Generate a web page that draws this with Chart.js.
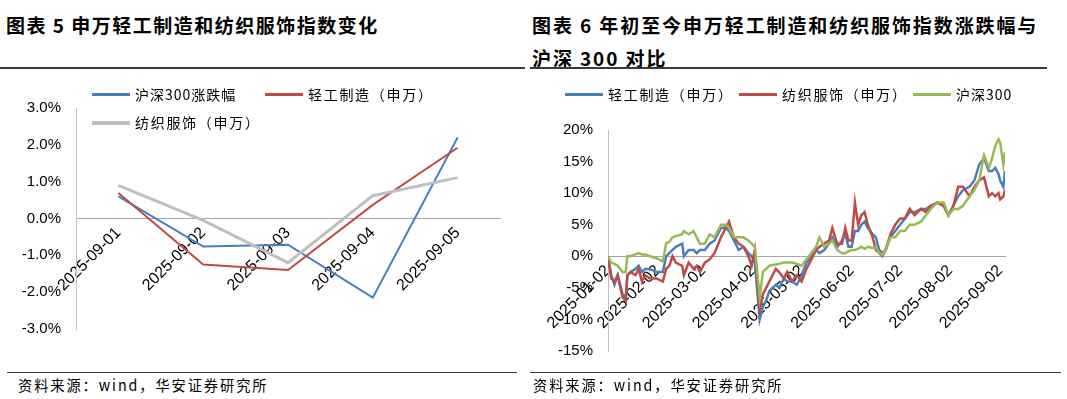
<!DOCTYPE html>
<html lang="zh">
<head>
<meta charset="UTF-8">
<title>申万轻工制造和纺织服饰指数</title>
<script src="https://cdn.jsdelivr.net/npm/chart.js@4"></script>
<style>
    body {
        margin: 0;
        width: 1067px;
        height: 399px;
        background: #fff;
        position: relative;
        overflow: hidden;
        font-family: "Noto Sans CJK SC", sans-serif;
        color: #000;
    }
    .title {
        position: absolute;
        top: 8px;
        font-size: 19px;
        font-weight: bold;
        line-height: 33px;
        letter-spacing: 1.5px;
        white-space: nowrap;
    }
    .rule {
        position: absolute;
        height: 2px;
        background: #3a3a3a;
    }
    .foot {
        position: absolute;
        top: 375px;
        font-size: 15px;
        line-height: 20px;
        letter-spacing: 2px;
        transform: scaleX(0.95);
        transform-origin: left;
    }
    canvas {
        position: absolute;
    }
    .lg {
        position: absolute;
        font-size: 14px;
        line-height: 20px;
        letter-spacing: 1.7px;
        white-space: nowrap;
    }
    .lg i {
        position: absolute;
        top: 9px;
        width: 38px;
        height: 3px;
    }
    .lg span {
        position: absolute;
        left: 43px;
        top: 0;
    }
</style>
</head>
<body>
<div class="title" style="left:6px">图表 5 申万轻工制造和纺织服饰指数变化</div>
<div class="title" style="left:532px;letter-spacing:1.9px">图表 6 年初至今申万轻工制造和纺织服饰指数涨跌幅与<br>沪深 300 对比</div>
<div class="rule" style="left:0;top:67px;width:525px"></div>
<div class="rule" style="left:530px;top:67px;width:517px"></div>

<canvas id="dayChart" width="525" height="290" style="left:0;top:70px"></canvas>
<canvas id="ytdChart" width="537" height="310" style="left:530px;top:70px"></canvas>

<div class="lg" style="left:92px;top:84px;letter-spacing:1px"><i style="background:#4a7ebb"></i><span>沪深300涨跌幅</span></div>
<div class="lg" style="left:265px;top:84px"><i style="background:#be4b48"></i><span>轻工制造（申万）</span></div>
<div class="lg" style="left:92px;top:112px"><i style="background:#bfbfbf;height:4px"></i><span>纺织服饰（申万）</span></div>

<div class="lg" style="left:565px;top:84px"><i style="background:#4a7ebb"></i><span>轻工制造（申万）</span></div>
<div class="lg" style="left:739px;top:84px"><i style="background:#be4b48"></i><span>纺织服饰（申万）</span></div>
<div class="lg" style="left:913px;top:84px;letter-spacing:1px"><i style="background:#98b954"></i><span>沪深300</span></div>

<div class="rule" style="left:7px;top:372px;width:510px;height:1px"></div>
<div class="rule" style="left:530px;top:372px;width:531px;height:1px"></div>
<div class="foot" style="left:18px">资料来源：wind，华安证券研究所</div>
<div class="foot" style="left:533px">资料来源：wind，华安证券研究所</div>

<script>
// 图表5：9月第一周日涨跌幅 (%)
const dayLabels = ['2025-09-01', '2025-09-02', '2025-09-03', '2025-09-04', '2025-09-05'];
const hs300Day = [0.6, -0.76, -0.71, -2.15, 2.2];
const qinggongDay = [0.69, -1.25, -1.4, 0.37, 1.92];
const fangzhiDay = [0.9, -0.05, -1.2, 0.62, 1.11];

// 图表6：年初至今累计涨跌幅 (%)，横轴为距 2025-01-02 的自然日
const ytdDays = [0, 2, 4, 6, 9, 11, 12, 14, 17, 19,
    21, 23, 26, 30, 34, 36, 38, 40, 42, 46,
    47, 50, 53, 55, 57, 60, 63, 66, 70, 73,
    75, 78, 81, 84, 87, 89, 91, 94, 96, 98,
    100, 104, 106, 109, 111, 114, 117, 120, 123, 126,
    129, 131, 134, 137, 139, 142, 145, 147, 149, 151,
    153, 155, 157, 159, 161, 164, 166, 168, 170, 172,
    175, 178, 181, 184, 187, 190, 194, 197, 200, 204,
    208, 211, 214, 217, 220, 224, 227, 230, 233, 236,
    238, 240, 242, 243, 245, 246];
const qinggongYtd = [0, -3, -4.5, -3, -6, -6.5, -3, -2.5, -2, -1.5,
    -2.5, -2, -2, -2.5, -2.5, 0, 0.5, 1, 1.5, 2,
    0, 1, 1, 0.5, 1, 1, 2, 2.5, 4.5, 4.5,
    4, 2.5, 1, 1.5, 0.5, 0, -1, -10, -8, -7,
    -5.5, -4.5, -5, -3.5, -4, -4, -4.5, -3, -1, 0,
    1, 0.5, 1, 2, 3, 1.5, 2.5, 3.5, 1.5, 1.5,
    4, 4, 5, 5.5, 4.5, 3.5, 3, 1, 0.5, 1,
    3, 4, 5, 6, 7, 7, 7.5, 7.5, 8, 8.5,
    8, 6.5, 8, 9.5, 10.5, 11, 12, 14.5, 15.5, 13.5,
    13.5, 14, 13, 12, 11, 13.5];
const fangzhiYtd = [0, -3.5, -4, -3, -6.5, -7, -3, -2.5, -3, -2,
    -4, -3, -3.5, -3.5, -4, -2, -1.5, 0, -1, -1.5,
    -3, -1, -2, -1.5, -2.5, -1, -0.5, 0.5, 3, 4.5,
    5.5, 3, 2, 1.5, 0, -1.5, 1, -8.5, -6, -5,
    -4, -2, -2.5, -3.5, -2.5, -4, -3, -4, -2, -0.5,
    1, 1.5, 2, 2.5, 4.5, 2, 2, 4.5, 2.5, 2.5,
    8.5, 5, 6.5, 7, 5, 3, 1, 0.5, 0, 1,
    3.5, 5, 6, 6, 7.5, 6.5, 7.5, 7, 8, 8.5,
    8, 6.5, 8, 11, 11, 9.5, 11, 12, 12.5, 9.5,
    10, 9.5, 10, 9, 9.5, 10.5];
const hs300Ytd = [0, -1, -1.2, -1.5, -2.5, -2.5, 0, 0, 0.3, 0.5,
    0.3, 0.3, 0, -0.3, -0.8, 2, 2.3, 3, 3.2, 3.5,
    4, 3.5, 4, 3, 2, 2, 3.5, 3, 5, 5,
    4.5, 3, 3, 3, 2.5, 2, 1.5, -6.5, -2.5, -2,
    -1.5, -1.3, -1.2, -1, -1, -1, -1.2, -1.5, -0.5, 0.5,
    1.5, 3, 1.5, 2, 2.5, 1, 0.5, 0.5, 0.8, 1,
    1, 1.2, 1.5, 1.2, 1.5, 1.3, 1.5, 0.5, 0.2, 1,
    3, 3, 4, 4, 5, 5, 5.5, 6.5, 7.5, 8.5,
    8.5, 6.5, 7.5, 7.5, 8, 9.5, 10.5, 12, 16, 14,
    15.5, 17.5, 18.5, 18, 14.5, 16.5];
const monthTickDays = [0, 31, 59, 90, 120, 151, 181, 212, 243];
const monthTickLabels = ['2025-01-02', '2025-02-02', '2025-03-02', '2025-04-02', '2025-05-02',
    '2025-06-02', '2025-07-02', '2025-08-02', '2025-09-02'];

const tickFont = { family: 'Liberation Sans, Arial', size: 15 };
const dateFont = { family: 'Liberation Sans, Arial', size: 16 };

function toPoints(vals) {
    return vals.map((v, i) => ({ x: ytdDays[i], y: v }));
}

// 图表5
new Chart(document.getElementById('dayChart'), {
    type: 'line',
    data: {
        labels: dayLabels,
        datasets: [
            { label: '沪深300涨跌幅', data: hs300Day, borderColor: '#4a7ebb', borderWidth: 2, order: 2 },
            { label: '轻工制造（申万）', data: qinggongDay, borderColor: '#be4b48', borderWidth: 2, order: 1 },
            { label: '纺织服饰（申万）', data: fangzhiDay, borderColor: '#bfbfbf', borderWidth: 3, order: 0 }
        ]
    },
    options: {
        responsive: false,
        animation: false,
        elements: { point: { radius: 0 }, line: { tension: 0 } },
        layout: { padding: { top: 38, right: 25, bottom: 31, left: 0 } },
        plugins: { legend: { display: false }, tooltip: { enabled: false } },
        scales: {
            x: {
                position: { y: 0 },
                offset: true,
                grid: { display: false, drawTicks: false },
                border: { color: '#a6a6a6' },
                ticks: { minRotation: 45, maxRotation: 45, autoSkip: false, font: dateFont, color: '#000', padding: 5 }
            },
            y: {
                min: -3,
                max: 3,
                grid: { display: false, drawTicks: false },
                border: { color: '#bfbfbf' },
                ticks: { stepSize: 1, font: tickFont, color: '#000', padding: 15, callback: v => v.toFixed(1) + '%' },
                afterFit: s => { s.width = 76; }
            }
        }
    }
});

// 图表6
new Chart(document.getElementById('ytdChart'), {
    type: 'line',
    data: {
        datasets: [
            { label: '轻工制造（申万）', data: toPoints(qinggongYtd), borderColor: '#4a7ebb', borderWidth: 2.5, order: 2 },
            { label: '纺织服饰（申万）', data: toPoints(fangzhiYtd), borderColor: '#be4b48', borderWidth: 2.5, order: 1 },
            { label: '沪深300', data: toPoints(hs300Ytd), borderColor: '#98b954', borderWidth: 2.5, order: 0 }
        ]
    },
    options: {
        responsive: false,
        animation: false,
        elements: { point: { radius: 0 }, line: { tension: 0 } },
        layout: { padding: { top: 60, right: 62, bottom: 29, left: 0 } },
        plugins: { legend: { display: false }, tooltip: { enabled: false } },
        scales: {
            x: {
                type: 'linear',
                position: { y: 0 },
                min: 0,
                max: 246,
                grid: { display: false, drawTicks: false },
                border: { color: '#a6a6a6' },
                afterBuildTicks: s => { s.ticks = monthTickDays.map(d => ({ value: d })); },
                ticks: {
                    minRotation: 45, maxRotation: 45, autoSkip: false, font: dateFont, color: '#000', padding: 5,
                    callback: (v, i) => monthTickLabels[i]
                }
            },
            y: {
                min: -15,
                max: 20,
                grid: { display: false, drawTicks: false },
                border: { color: '#bfbfbf' },
                ticks: { stepSize: 5, font: tickFont, color: '#000', padding: 15, callback: v => v + '%' },
                afterFit: s => { s.width = 78; }
            }
        }
    }
});
</script>
</body>
</html>
